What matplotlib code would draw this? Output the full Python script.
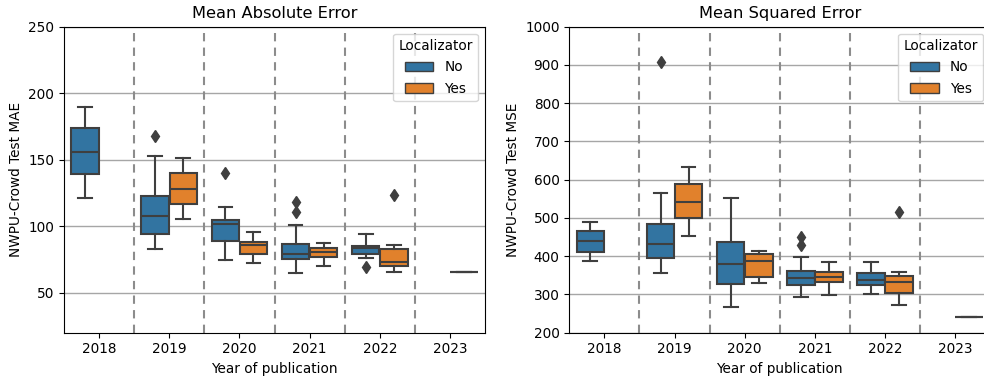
import matplotlib
matplotlib.use("Agg")
import matplotlib.pyplot as plt
from matplotlib.patches import Patch

years = ["2018", "2019", "2020", "2021", "2022", "2023"]
hues = ["No", "Yes"]

# Box summaries per (year, localizator): whislo, q1, median, q3, whishi, fliers
mae_no = {
    "2018": (121, 139, 156, 174, 190, []),
    "2019": (83, 94, 108, 123, 153, [167.5]),
    "2020": (75, 89, 101.5, 104.5, 114.5, [140]),
    "2021": (65, 75.5, 79, 86.5, 101, [111, 118]),
    "2022": (76.5, 79, 83.5, 85.5, 94, [69.5]),
}
mae_yes = {
    "2019": (105.5, 117, 128, 140, 151.5, []),
    "2020": (72.5, 79, 86, 88, 96, []),
    "2021": (70, 77, 80.5, 83.5, 87.5, []),
    "2022": (65.5, 70.5, 73, 83, 86, [123.7]),
    "2023": (66, 66, 66, 66, 66, []),
}
mse_no = {
    "2018": (387, 412, 440, 467, 490, []),
    "2019": (355, 396, 433, 484, 566, [908]),
    "2020": (266, 327, 380, 437, 552, []),
    "2021": (294, 325, 342, 362, 399, [429, 451]),
    "2022": (301, 326, 339, 357, 386, []),
}
mse_yes = {
    "2019": (453, 499, 543, 589, 634, []),
    "2020": (330, 345, 388, 405, 413, []),
    "2021": (298, 332, 345, 358, 386, []),
    "2022": (272, 303, 332, 348, 358, [515]),
    "2023": (242, 242, 242, 242, 242, []),
}

colors = {"No": "#3274a1", "Yes": "#e1812c"}
line_gray = "#3f3f3f"
fs = 9.8


def to_stats(summary):
    lo, q1, med, q3, hi, fl = summary
    return dict(whislo=lo, q1=q1, med=med, q3=q3, whishi=hi, fliers=fl)


def draw_panel(ax, data_by_hue, title, ylabel, ylim, yticks):
    width = 0.4
    for k, hue in enumerate(hues):
        data = data_by_hue[hue]
        offset = (k - 0.5) * width
        stats, pos = [], []
        for i, yr in enumerate(years):
            if yr in data:
                stats.append(to_stats(data[yr]))
                pos.append(i + offset)
        ax.bxp(
            stats, positions=pos, widths=width * 0.98, patch_artist=True,
            showfliers=True,
            boxprops=dict(facecolor=colors[hue], edgecolor=line_gray, linewidth=1.5),
            medianprops=dict(color=line_gray, linewidth=1.5),
            whiskerprops=dict(color=line_gray, linewidth=1.5),
            capprops=dict(color=line_gray, linewidth=1.5),
            flierprops=dict(marker="d", markerfacecolor=line_gray,
                            markeredgecolor=line_gray, markersize=6),
            manage_ticks=False, zorder=3,
        )
    for b in range(len(years) - 1):
        ax.axvline(b + 0.5, color="#8c8c8c", linestyle=(0, (4, 3)),
                   linewidth=1.5, zorder=2)
    ax.set_xlim(-0.5, len(years) - 0.5)
    ax.set_xticks(range(len(years)))
    ax.set_xticklabels(years)
    ax.set_ylim(*ylim)
    ax.set_yticks(yticks)
    ax.yaxis.grid(True, color="#a6a6a6", linewidth=1.0)
    ax.set_axisbelow(True)
    ax.set_title(title, fontsize=11.7)
    ax.set_xlabel("Year of publication", fontsize=fs)
    ax.set_ylabel(ylabel, fontsize=fs)
    ax.tick_params(labelsize=fs)
    handles = [Patch(facecolor=colors[h], edgecolor=line_gray, label=h) for h in hues]
    leg = ax.legend(handles=handles, title="Localizator", loc="upper right",
                    fontsize=fs, title_fontsize=fs, handlelength=2.1,
                    labelspacing=0.55)
    leg.set_zorder(5)


fig = plt.figure(figsize=(9.84, 3.82), dpi=100)
ax1 = fig.add_axes([64 / 984, 49.3 / 382, 421 / 984, 306 / 382])
ax2 = fig.add_axes([569.3 / 984, 49.3 / 382, 421 / 984, 306 / 382])

draw_panel(ax1, {"No": mae_no, "Yes": mae_yes}, "Mean Absolute Error",
           "NWPU-Crowd Test MAE", (20, 250), [50, 100, 150, 200, 250])
draw_panel(ax2, {"No": mse_no, "Yes": mse_yes}, "Mean Squared Error",
           "NWPU-Crowd Test MSE", (200, 1000), list(range(200, 1001, 100)))

fig.savefig("out.png", dpi=100)
